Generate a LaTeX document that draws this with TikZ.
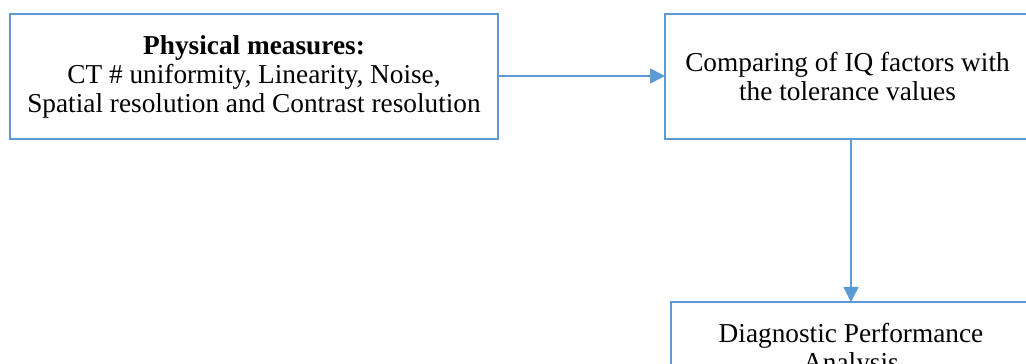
\documentclass[tikz,border=0pt]{standalone}
\usepackage{fontspec}
\setmainfont{Liberation Serif}
\usepackage{tikz}
\usetikzlibrary{arrows.meta, positioning}
\definecolor{FlowBlue}{RGB}{91, 155, 213}

\begin{document}
\begin{tikzpicture}[
    x=1pt, y=1pt,
    box/.style={draw=FlowBlue, line width=1.6pt, rectangle, align=center, minimum height=125pt, inner sep=0pt, outer sep=0pt, font=\fontsize{27.3}{29}\selectfont},
    arrow/.style={-{Triangle[length=15pt, width=15pt]}, line width=1.6pt, draw=FlowBlue}
]
\useasboundingbox (0,0) rectangle (1026,364);
\clip (0,0) rectangle (1026,364);

\node (phys) [box, minimum width=488pt] at (254,287.5) {\textbf{Physical measures:}\\CT \# uniformity, Linearity, Noise,\\Spatial resolution and Contrast resolution};
\node (comp) [box, minimum width=365pt, right=167pt of phys] {Comparing of IQ factors with\\the tolerance values};
\node (diag) [box, minimum width=360pt, minimum height=97pt, below=163pt of comp.south west, anchor=north west, xshift=6pt] {Diagnostic Performance\\Analysis};

\draw [arrow] (phys.east |- 0,288) -- (comp.west |- 0,288);
\draw [arrow] (comp.south -| 851,0) -- (diag.north -| 851,0);

\end{tikzpicture}
\end{document}
